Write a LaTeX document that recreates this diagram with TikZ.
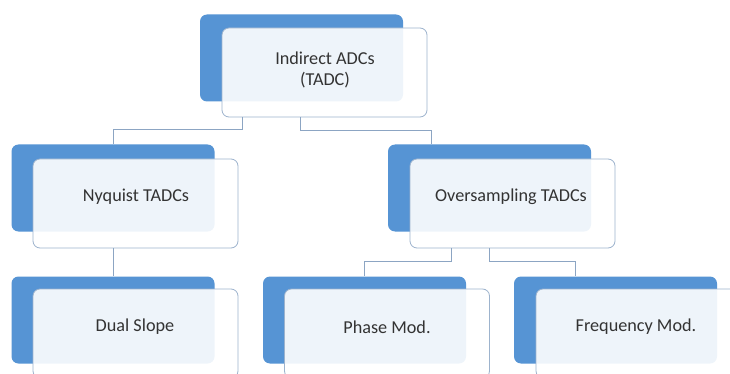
\documentclass[tikz,border=0pt]{standalone}
\usepackage{fontspec}
\setmainfont{Carlito}
\usetikzlibrary{calc}
\definecolor{backblue}{HTML}{5694D4}
\definecolor{frontline}{HTML}{9DB3CD}
\definecolor{connline}{HTML}{8CA5C3}
\definecolor{labeltext}{HTML}{333333}
\begin{document}
\begin{tikzpicture}[x=1pt,y=-1pt,
  backbox/.style={fill=backblue, rounded corners=7pt, minimum width=203pt, minimum height=87pt, inner sep=0pt},
  frontbox/.style={draw=frontline, line width=0.8pt, fill=white, fill opacity=0.9, rounded corners=7pt, minimum width=205pt, minimum height=89pt, inner sep=0pt},
  boxtext/.style={text=labeltext, align=center, inner sep=0pt, font=\fontsize{18.2}{21}\selectfont},
  conn/.style={draw=connline, line width=0.9pt}]
\useasboundingbox (0,0) rectangle (730,374);
\clip (0,0) rectangle (730,374);
\fill[white] (0,0) rectangle (730,374);

% root
\node[backbox] (topB) at (301.5,58) {};
\node[frontbox] (topF) at (324.5,72.5) {};
\node[boxtext] (topT) at (325,70) {Indirect ADCs\\(TADC)};

% second level
\node[backbox] (nyqB) at (113,188) {};
\node[frontbox] (nyqF) at (135.5,203.5) {};
\node[boxtext] (nyqT) at (136,197) {Nyquist TADCs};

\node[backbox] (overB) at (489.5,188) {};
\node[frontbox] (overF) at (512.5,203.5) {};
\node[boxtext] (overT) at (511,197) {Oversampling TADCs};

% third level
\node[backbox] (dualB) at (113,320) {};
\node[frontbox] (dualF) at (135.5,333.5) {};
\node[boxtext] (dualT) at (135,327) {Dual Slope};

\node[backbox] (phaseB) at (364.5,320) {};
\node[frontbox] (phaseF) at (387,333.5) {};
\node[boxtext] (phaseT) at (387,327) {Phase Mod.};

\node[backbox] (freqB) at (615.5,320) {};
\node[frontbox] (freqF) at (638.5,333.5) {};
\node[boxtext] (freqT) at (636,327) {Frequency Mod.};

% connectors
\draw[conn] ($(topF.south west)+(21,0)$) |- ($(nyqB.north)+(0,-15)$) -- (nyqB.north);
\draw[conn] ($(topF.south west)+(79,0)$) |- ($(overB.north west)+(44,-14)$) -- ($(overB.north west)+(44,0)$);
\draw[conn] (dualB.north |- nyqF.south) -- (dualB.north);
\draw[conn] ($(overF.south west)+(42,0)$) |- ($(phaseB.north)+(0,-15)$) -- (phaseB.north);
\draw[conn] ($(overF.south west)+(80,0)$) |- ($(freqB.north west)+(62,-15)$) -- ($(freqB.north west)+(62,0)$);
\end{tikzpicture}
\end{document}
